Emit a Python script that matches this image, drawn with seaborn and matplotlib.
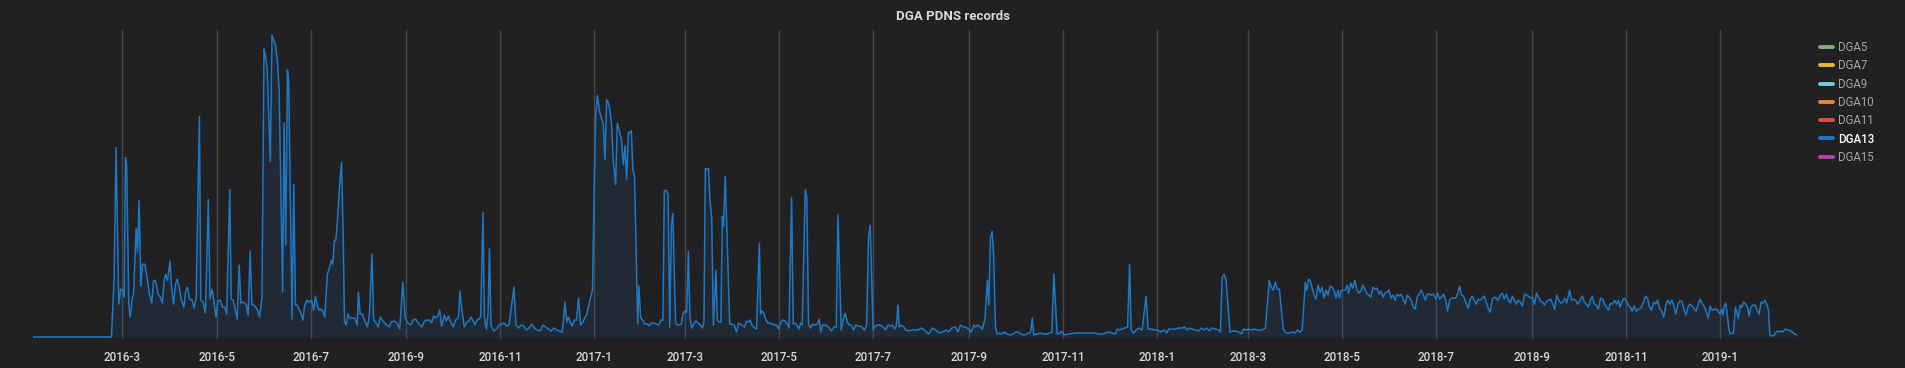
import numpy as np
import pandas as pd
import seaborn as sns
import matplotlib.pyplot as plt
import matplotlib.dates as mdates
from matplotlib.ticker import FuncFormatter
from matplotlib.lines import Line2D

# DGA13 daily record counts (no y scale shown, arbitrary units)
# x values are days since 2016-03-01

# 2016-01 .. 2016-08
seg1_day = [-58, -7.1, -5.4, -4.1, -2.4, -1.1, 0.4, 1.1, 2.0, 2.8, 4.1, 5.0, 6.3, 7.2, 8.9, 9.8,
            10.8, 11.9, 13.0, 14.5, 16.0, 17.5, 19.0, 20.1, 21.2, 22.0, 23.1, 24.6, 25.9, 27.1,
            28.1, 29.2, 30.9, 31.8, 33.1, 34.4, 35.5, 36.8, 38.3, 39.8, 41.1, 42.2, 43.5, 45.2,
            46.5, 47.8, 49.9, 50.8, 52.3, 53.8, 55.7, 56.8, 58.1, 59.2, 60.7, 61.8, 63.5, 64.8,
            66.3, 67.6, 69.6, 70.5, 71.8, 73.3, 74.4, 75.7, 76.8, 78.3, 80.2, 81.5, 82.8, 83.9,
            85.9, 87.6, 88.9, 90.5, 91.8, 92.7, 93.8, 95.9, 97.0, 98.1, 99.2, 100.5, 101.6, 103.9,
            104.8, 105.9, 107.0, 107.8, 110.0, 111.1, 112.2, 113.3, 114.4, 115.7, 117.0, 118.1,
            119.7, 121.2, 122.7, 124.0, 125.1, 126.4, 127.5, 128.8, 129.9, 131.2, 132.9, 134.4,
            135.5, 136.4, 137.5, 138.4, 139.7, 141.0, 142.1, 143.2, 144.0, 145.1, 146.2, 147.5,
            149.2, 150.6, 152.2, 153.0, 154.1, 155.6, 156.9, 158.8, 160.1, 161.8, 162.9, 164.2,
            165.8, 167.3, 168.8, 170.6]
seg1_val = [0, 0, 60, 190, 33, 48, 47, 40, 180, 170, 33, 20, 38, 43, 109, 85,
            137, 51, 73, 73, 60, 43, 34, 56, 57, 53, 43, 40, 34, 58,
            63, 57, 76, 50, 33, 53, 58, 50, 37, 30, 47, 50, 38, 37,
            29, 39, 221, 37, 35, 24, 138, 38, 48, 37, 20, 36, 37, 30,
            30, 23, 148, 38, 37, 26, 18, 72, 34, 35, 33, 22, 86, 33,
            31, 27, 20, 40, 289, 282, 270, 176, 303, 298, 293, 277, 247, 45,
            215, 92, 268, 257, 18, 153, 32, 32, 28, 24, 17, 31,
            37, 35, 37, 27, 41, 32, 27, 28, 26, 20, 63, 70,
            77, 73, 97, 97, 123, 157, 175, 97, 15, 12, 23, 19,
            19, 19, 12, 45, 23, 23, 17, 10, 21, 83, 17, 15,
            10, 20, 16, 13]

# 2016-08 .. 2017-04
seg2_day = [173.1, 174.2, 176.3, 178.1, 179.8, 181.9, 183.3, 184.5, 185.9, 187.1, 188.4, 190.2,
            191.9, 194.1, 195.8, 197.5, 199.3, 200.5, 201.8, 203.2, 204.5, 205.7, 207.0, 208.8,
            210.0, 211.4, 212.6, 214.5, 216.1, 217.9, 218.9, 220.0, 221.7, 223.4, 224.7, 226.0,
            227.4, 228.6, 229.9, 231.2, 232.3, 233.8, 234.7, 236.0, 237.1, 238.0, 239.0, 240.7,
            242.5, 244.2, 246.0, 247.6, 249.0, 250.7, 253.9, 255.2, 256.7, 258.4, 260.2, 262.1,
            263.6, 265.4, 267.1, 268.9, 270.8, 272.7, 274.5, 276.1, 277.9, 279.6, 281.8, 283.5,
            285.2, 287.0, 288.1, 289.1, 290.4, 291.7, 293.0, 294.5, 295.8, 297.1, 298.7, 300.0,
            301.0, 303.2, 304.8, 306.1, 306.9, 308.0, 309.3, 311.8, 312.9, 314.0, 315.1, 316.2,
            317.2, 318.3, 319.8, 320.9, 322.2, 323.7, 324.8, 325.9, 327.0, 328.1, 329.1, 330.0,
            331.0, 332.1, 334.1, 334.9, 336.0, 337.3, 338.8, 340.6, 341.6, 342.7, 344.4, 346.2,
            347.9, 349.2, 350.5, 351.4, 352.7, 353.8, 354.9, 356.0, 356.9, 358.7, 360.0, 361.5,
            362.6, 363.5, 364.8, 365.9, 367.0, 368.0, 369.1, 370.4, 371.9, 373.4, 374.7, 376.0,
            377.1, 378.0, 379.1, 380.0, 381.0, 382.1, 383.2, 384.9, 385.7, 387.0, 388.1, 389.0,
            389.8, 390.9, 393.8, 395.2, 396.7, 398.2, 399.5]
seg2_val = [10, 15, 16, 14, 8, 55, 20, 15, 13, 12, 17, 18,
            14, 10, 16, 17, 17, 14, 21, 19, 21, 27, 11, 22,
            16, 21, 16, 10, 17, 20, 46, 28, 10, 15, 16, 20,
            16, 12, 17, 18, 20, 125, 20, 8, 23, 89, 12, 6,
            8, 12, 13, 14, 11, 12, 50, 12, 9, 12, 11, 7,
            9, 13, 9, 7, 6, 12, 10, 8, 6, 9, 7, 6,
            5, 35, 15, 20, 15, 11, 17, 17, 39, 12, 15, 20,
            22, 37, 47, 163, 223, 242, 227, 213, 178, 238, 235, 227,
            213, 177, 153, 214, 207, 197, 173, 192, 158, 205, 205, 207,
            168, 161, 13, 51, 20, 17, 13, 13, 11, 14, 14, 13,
            12, 17, 17, 147, 147, 143, 10, 113, 124, 14, 12, 12,
            14, 23, 26, 25, 86, 20, 9, 13, 16, 14, 12, 9,
            15, 169, 168, 169, 137, 120, 12, 67, 17, 15, 15, 121,
            111, 161, 13, 13, 12, 5, 14]

# 2017-04 .. 2017-11
seg3_day = [401.7, 403.4, 404.7, 406.0, 407.1, 408.2, 409.9, 411.2, 413.0, 413.8, 414.8, 415.9,
            417.3, 418.5, 419.9, 421.6, 422.9, 424.2, 425.5, 426.8, 428.1, 429.8, 431.1, 432.2,
            433.9, 435.0, 436.3, 437.6, 438.7, 439.7, 440.8, 442.8, 443.8, 444.9, 446.2, 447.5,
            448.8, 450.6, 451.8, 452.8, 454.0, 456.2, 457.9, 459.7, 461.4, 462.9, 464.0, 466.1,
            467.4, 468.7, 470.0, 471.3, 472.6, 474.1, 475.6, 477.3, 479.6, 481.2, 482.6, 483.8,
            484.9, 486.8, 488.1, 489.8, 491.6, 493.3, 495.0, 496.4, 498.1, 499.4, 500.7, 501.8,
            502.9, 503.7, 505.0, 506.8, 508.0, 509.7, 511.9, 514.1, 516.2, 518.0, 520.1, 522.7,
            525.4, 527.5, 529.7, 531.9, 534.1, 535.8, 537.8, 540.1, 541.8, 543.4, 545.2, 546.9,
            548.6, 550.4, 552.1, 553.4, 554.6, 556.4, 557.7, 559.3, 560.9, 561.8, 562.9, 564.0,
            565.0, 566.1, 567.2, 568.5, 570.2, 571.9, 573.7, 575.8, 577.6, 579.3, 581.0, 582.8,
            584.5, 586.7, 588.9, 590.0, 591.0, 593.2, 595.3, 597.1, 599.2, 601.4, 602.7, 604.0,
            606.1, 607.9, 609.1, 610.5, 613.5, 617.8, 622.1, 626.5, 630.8]
seg3_val = [12, 10, 16, 15, 17, 12, 9, 8, 94, 23, 26, 24,
            17, 14, 14, 13, 12, 12, 8, 14, 17, 16, 13, 9,
            140, 13, 14, 11, 8, 14, 12, 148, 140, 13, 9, 13,
            12, 13, 18, 5, 12, 12, 10, 6, 10, 10, 123, 7,
            18, 24, 15, 12, 12, 7, 12, 11, 10, 7, 12, 100,
            112, 7, 11, 12, 12, 10, 7, 12, 11, 12, 8, 11,
            32, 10, 12, 10, 7, 6, 7, 7, 7, 9, 7, 3,
            9, 7, 4, 5, 7, 5, 9, 10, 5, 12, 10, 10,
            8, 5, 12, 10, 12, 10, 8, 18, 57, 32, 100, 106,
            80, 10, 3, 4, 3, 5, 3, 2, 3, 5, 5, 3,
            2, 3, 5, 19, 2, 3, 4, 3, 3, 4, 5, 63,
            3, 4, 6, 2, 3, 4, 4, 4, 4]

# 2017-11 .. 2018-07
seg4_day = [633.1, 635.3, 637.4, 639.6, 641.8, 643.9, 645.2, 646.5, 648.3, 650.0, 651.8, 653.1,
            654.1, 655.6, 657.3, 659.0, 661.2, 663.8, 665.1, 666.9, 669.0, 671.2, 673.3, 675.5,
            677.2, 678.5, 680.7, 682.8, 685.0, 687.2, 688.9, 690.4, 691.9, 693.6, 695.8, 697.9,
            699.7, 701.4, 703.1, 704.9, 706.6, 708.8, 710.9, 712.0, 713.1, 714.4, 715.7, 718.2,
            720.0, 722.2, 723.9, 725.6, 726.9, 728.6, 730.4, 732.1, 733.8, 735.6, 737.3, 739.0,
            741.2, 743.7, 745.0, 746.3, 747.6, 748.9, 750.2, 752.8, 754.6, 756.8, 758.9, 760.6,
            761.9, 763.7, 765.0, 767.1, 768.0, 769.1, 770.1, 771.4, 772.7, 774.0, 775.3, 776.6,
            777.9, 779.2, 780.5, 781.8, 783.1, 784.4, 785.7, 787.0, 788.3, 789.2, 790.4, 791.7,
            793.0, 794.3, 795.2, 796.5, 797.8, 799.1, 800.4, 801.7, 803.0, 804.3, 805.6, 806.9,
            808.2, 809.5, 810.9, 812.2, 813.5, 814.8, 816.1, 817.4, 818.7, 820.0, 821.3, 822.6,
            823.9, 825.2, 826.6, 827.9, 829.2, 830.5, 831.8, 833.1, 834.4, 835.7, 837.0, 838.3,
            839.7, 841.0, 842.3, 843.6, 844.9, 846.2, 847.5, 848.8, 850.2, 851.5, 852.8, 854.1,
            855.4, 856.7, 858.0, 859.3, 860.6, 861.9, 863.2]
seg4_val = [3, 3, 4, 5, 4, 3, 8, 7, 8, 9, 10, 73,
            7, 4, 7, 9, 7, 41, 8, 8, 7, 7, 5, 7,
            4, 8, 8, 8, 9, 9, 10, 7, 9, 8, 7, 6,
            9, 7, 9, 6, 9, 8, 7, 5, 60, 63, 57, 5,
            6, 6, 5, 3, 8, 7, 8, 7, 8, 7, 7, 7,
            9, 57, 50, 47, 55, 48, 48, 8, 4, 4, 5, 4,
            7, 5, 7, 55, 47, 58, 57, 50, 42, 38, 52, 45,
            50, 39, 47, 42, 51, 50, 47, 39, 47, 39, 47, 47,
            47, 52, 44, 54, 49, 57, 48, 44, 46, 52, 48, 44,
            42, 40, 50, 48, 49, 43, 46, 40, 44, 45, 47, 39,
            42, 37, 43, 41, 43, 38, 33, 42, 40, 37, 30, 28,
            41, 43, 47, 42, 37, 43, 43, 42, 43, 38, 44, 38,
            40, 43, 37, 26, 37, 39, 39]

# 2018-07 .. 2019-02
seg5_day = [864.5, 865.8, 867.1, 868.4, 869.7, 871.0, 872.7, 874.0, 875.3, 876.6, 877.9, 879.2,
            880.5, 881.8, 883.1, 884.4, 885.8, 886.9, 888.3, 889.6, 890.9, 892.2, 893.5, 894.8,
            896.1, 897.4, 898.7, 900.0, 901.3, 902.6, 903.9, 905.2, 906.5, 907.8, 909.2, 910.5,
            911.8, 913.1, 914.4, 915.7, 917.0, 918.3, 919.6, 920.9, 922.2, 923.5, 924.9, 926.2,
            927.5, 928.8, 930.1, 931.4, 932.7, 934.0, 935.3, 936.6, 938.4, 939.7, 941.0, 942.3,
            943.6, 944.9, 946.7, 948.0, 949.3, 950.6, 951.9, 953.2, 954.5, 955.8, 957.1, 958.5,
            959.8, 961.1, 962.4, 963.7, 965.0, 966.3, 967.6, 968.9, 970.2, 971.1, 972.4, 973.7,
            975.1, 976.4, 977.7, 979.0, 980.3, 981.6, 983.3, 984.6, 986.4, 987.7, 989.0, 990.3,
            991.6, 992.9, 994.2, 995.5, 996.9, 998.2, 999.5, 1000.8, 1002.1, 1003.4, 1004.7, 1006.0,
            1007.3, 1008.6, 1009.9, 1011.2, 1012.6, 1013.9, 1015.2, 1016.5, 1017.8, 1019.1, 1020.4, 1021.7,
            1023.0, 1024.3, 1025.6, 1026.9, 1028.3, 1029.6, 1030.9, 1032.2, 1033.5, 1034.8, 1036.1, 1037.0,
            1037.9, 1038.7, 1039.6, 1040.5, 1041.8, 1042.7, 1044.7, 1046.0, 1047.8, 1049.1, 1050.0, 1051.3,
            1052.6, 1053.9, 1054.8, 1056.1, 1057.4, 1058.7, 1060.0, 1061.3, 1062.6, 1063.9, 1065.2, 1066.6,
            1067.4, 1068.3, 1069.6, 1071.3, 1072.6, 1073.9, 1075.2, 1076.5, 1078.3, 1079.6, 1080.9, 1082.6,
            1084.4, 1085.9]
seg5_val = [39, 43, 51, 42, 41, 35, 29, 38, 41, 37, 33, 38,
            37, 39, 41, 35, 28, 25, 38, 40, 39, 37, 42, 44,
            38, 43, 37, 34, 41, 37, 33, 37, 35, 31, 43, 42,
            41, 39, 40, 33, 44, 40, 36, 35, 32, 36, 37, 38,
            33, 28, 42, 37, 34, 35, 39, 34, 47, 37, 38, 37,
            33, 36, 41, 35, 33, 30, 37, 41, 33, 32, 28, 39,
            38, 33, 30, 27, 34, 33, 37, 33, 37, 30, 35, 39,
            37, 32, 30, 26, 31, 26, 28, 29, 35, 41, 39, 30,
            27, 35, 33, 37, 28, 26, 20, 32, 37, 33, 37, 31,
            23, 33, 36, 36, 28, 22, 30, 33, 31, 29, 26, 32,
            38, 34, 31, 26, 19, 31, 27, 28, 28, 26, 23, 28,
            22, 31, 34, 25, 7, 3, 4, 30, 19, 32, 30, 35,
            33, 30, 21, 30, 32, 32, 27, 23, 35, 34, 37, 31,
            27, 2, 1, 2, 6, 5, 6, 5, 8, 7, 7, 5,
            3, 2]

series_names = ['DGA5', 'DGA7', 'DGA9', 'DGA10', 'DGA11', 'DGA13', 'DGA15']
series_colors = ['#7EB26D', '#EAB839', '#6ED0E0', '#EF843C', '#E24D42', '#1F78C1', '#BA43A9']

origin = pd.Timestamp('2016-03-01')
days = np.concatenate([seg1_day, seg2_day, seg3_day, seg4_day, seg5_day])
vals = np.concatenate([seg1_val, seg2_val, seg3_val, seg4_val, seg5_val])
df = pd.DataFrame({'time': origin + pd.to_timedelta(days, unit='D'), 'DGA13': vals})

bg = '#212124'
sns.set_theme(style='dark', rc={'axes.facecolor': bg, 'figure.facecolor': bg,
                                'savefig.facecolor': bg})
plt.rcParams['font.family'] = ['Roboto', 'DejaVu Sans']

W, H = 1906, 368
fig = plt.figure(figsize=(W / 100, H / 100), dpi=100)
ax = fig.add_axes([33 / W, 1 - 338.5 / H, (1797 - 33) / W, (338.5 - 30) / H])

blue = series_colors[series_names.index('DGA13')]
sns.lineplot(data=df, x='time', y='DGA13', ax=ax, color=blue, linewidth=1.1)
ax.fill_between(df['time'], df['DGA13'], color=blue, alpha=0.1, linewidth=0)

ax.set_xlim(df['time'].iloc[0], df['time'].iloc[-1])
ax.set_ylim(-1.5, 308)
ax.set_yticks([])
ax.set_xlabel('')
ax.set_ylabel('')

ax.xaxis.set_major_locator(mdates.MonthLocator(bymonth=[1, 3, 5, 7, 9, 11]))
ax.xaxis.set_major_formatter(FuncFormatter(
    lambda x, p: f"{mdates.num2date(x).year}-{mdates.num2date(x).month}"))
ax.grid(axis='x', color='#464648', linewidth=1)
ax.grid(axis='y', visible=False)
ax.tick_params(axis='x', colors='#d8d9da', labelsize=8.4, length=0, pad=9)
for lbl in ax.get_xticklabels():
    lbl.set_fontweight('medium')
for s in ax.spines.values():
    s.set_visible(False)

fig.text(0.5, 1 - 17 / H, 'DGA PDNS records', ha='center', va='center',
         color='#d8d9da', fontsize=9.5, fontweight='bold')

# legend (only DGA13 has data in this view)
handles = [Line2D([], [], color=c, lw=2.8, solid_capstyle='round') for c in series_colors]
leg = fig.legend(handles, series_names, loc='upper left', bbox_to_anchor=(1820 / W, 1 - 41 / H),
                 frameon=False, fontsize=8.3, handlelength=1.1, handletextpad=0.45,
                 labelspacing=0.46, borderpad=0, borderaxespad=0)
for t, n in zip(leg.get_texts(), series_names):
    if n == 'DGA13':
        t.set_color('#ffffff')
        t.set_fontweight('medium')
    else:
        t.set_color('#a3a4a6')

plt.savefig('out.png', dpi=100, facecolor=bg)
plt.close()
